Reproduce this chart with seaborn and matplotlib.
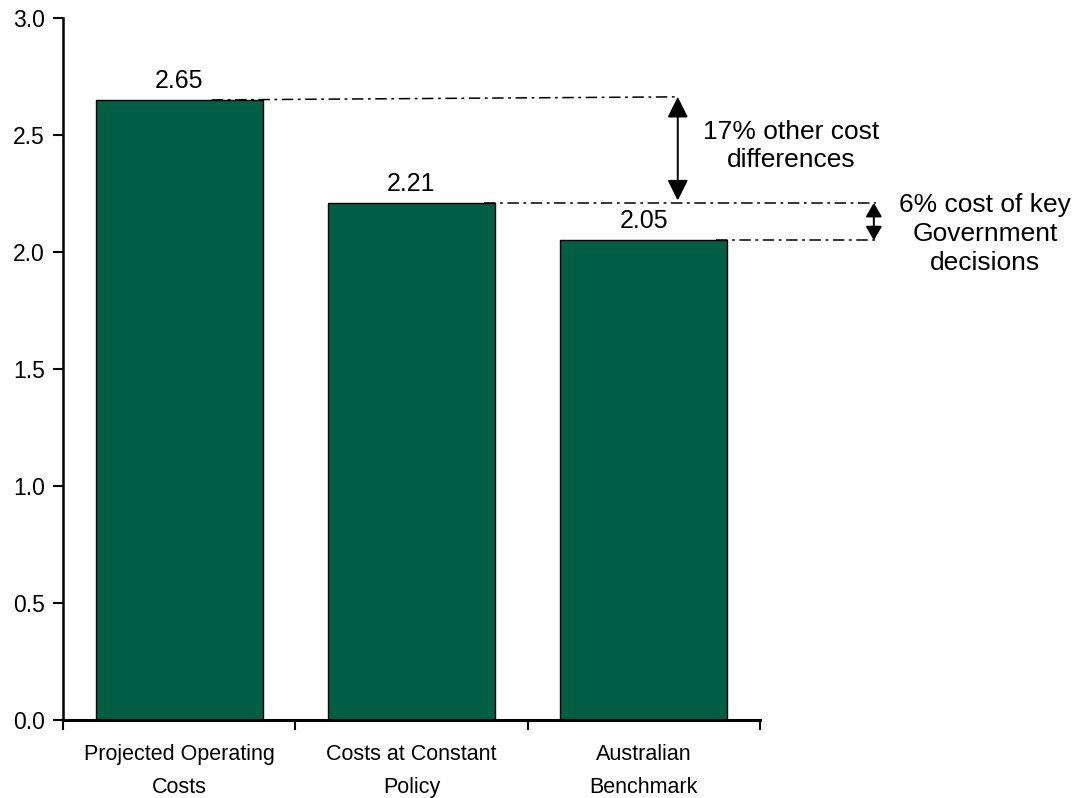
import matplotlib
matplotlib.use("Agg")
import matplotlib.pyplot as plt
import seaborn as sns
import pandas as pd
from matplotlib.ticker import FixedLocator, NullFormatter

categories = ["Projected Operating\nCosts", "Costs at Constant\nPolicy", "Australian\nBenchmark"]
values = [2.65, 2.21, 2.05]
value_labels = ["2.65", "2.21", "2.05"]
yticks = [0.0, 0.5, 1.0, 1.5, 2.0, 2.5, 3.0]
note_other = "17% other cost\ndifferences"
note_policy = "6% cost of key\nGovernment\ndecisions"

sns.set_theme(style="ticks")
plt.rcParams["font.family"] = ["Liberation Sans", "DejaVu Sans"]
plt.rcParams.update({"text.color": "black", "xtick.color": "black",
                     "ytick.color": "black", "axes.labelcolor": "black"})

df = pd.DataFrame({"category": categories, "value": values})

fig = plt.figure(figsize=(10.78, 7.98), dpi=100)
ax = fig.add_axes([63 / 1078, 78 / 798, 697 / 1078, 702 / 798])

sns.barplot(data=df, x="category", y="value", color="#005E45", saturation=1,
            width=0.72, edgecolor="black", linewidth=1.0, ax=ax)

ax.set_xlim(-0.5, 2.5)
ax.set_ylim(0, 3.0)
ax.set_xlabel("")
ax.set_ylabel("")
ax.set_yticks(yticks)
ax.set_yticklabels([f"{t:.1f}" for t in yticks], fontsize=16.5, color="black")
ax.tick_params(axis="y", direction="out", length=7, width=1.5, pad=6, colors="black")
ax.tick_params(axis="x", which="major", length=0, pad=17, labelsize=15.5, labelcolor="black")
ax.xaxis.set_minor_locator(FixedLocator([-0.5, 0.5, 1.5, 2.5]))
ax.xaxis.set_minor_formatter(NullFormatter())
ax.tick_params(axis="x", which="minor", direction="out", length=7, width=1.5, color="black")
for lbl in ax.get_xticklabels():
    lbl.set_linespacing(1.75)
    lbl.set_color("black")
sns.despine(ax=ax)
ax.spines["left"].set_linewidth(1.8)
ax.spines["bottom"].set_linewidth(2.2)
ax.spines["left"].set_color("black")
ax.spines["bottom"].set_color("black")

# value labels above bars
for i, (v, s) in enumerate(zip(values, value_labels)):
    ax.text(i, v + 0.052, s, ha="center", va="baseline", fontsize=18, color="black")

half = 0.72 / 2
dash = dict(color="black", lw=1.1, linestyle=(0, (7.5, 3, 1.8, 3)), clip_on=False)
ax.plot([0.14, 2.146], [values[0], values[0] + 0.013], **dash)
ax.plot([1 + half - 0.05, 3.0], [values[1], values[1]], **dash)
ax.plot([2 + half - 0.05, 3.0], [values[2], values[2]], **dash)

arrow_big = dict(arrowstyle="<|-|>,head_length=0.7,head_width=0.35", color="black", lw=1.4,
                 mutation_scale=18, shrinkA=0, shrinkB=0)
arrow_small = dict(arrowstyle="<|-|>,head_length=0.6,head_width=0.35", color="black", lw=1.4,
                   mutation_scale=14, shrinkA=0, shrinkB=0)
ax.annotate("", xy=(2.146, values[0] + 0.013), xytext=(2.146, values[1] + 0.01),
            arrowprops=arrow_big, annotation_clip=False)
ax.annotate("", xy=(2.99, values[1]), xytext=(2.99, values[2]),
            arrowprops=arrow_small, annotation_clip=False)

ax.text(2.635, 2.453, note_other, ha="center", va="center", fontsize=19,
        linespacing=1.25, color="black")
ax.text(3.468, 2.077, note_policy, ha="center", va="center", fontsize=19,
        linespacing=1.25, color="black")

fig.savefig("out.png", dpi=100, facecolor="white")
